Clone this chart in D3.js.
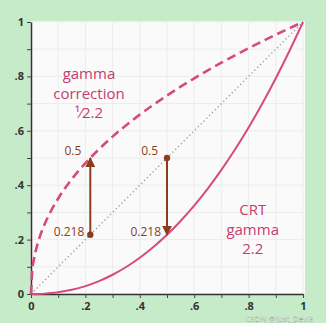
<!DOCTYPE html>
<html>
<head>
<meta charset="utf-8">
<script src="https://cdn.jsdelivr.net/npm/d3@7"></script>
<style>
body { margin:0; background:#c6ebc9; }
svg { display:block; }
text { font-family: "Open Sans", Lato, sans-serif; }
</style>
</head>
<body>
<div id="chart"></div>
<script>
var gammaValue = 2.2;
var curveXs = [0,0.005,0.01,0.02,0.03,0.05,0.075,0.1,0.15,0.2,0.25,0.3,0.35,0.4,0.45,0.5,0.55,0.6,0.65,0.7,0.75,0.8,0.85,0.9,0.95,1];
var xTicks = [0,0.1,0.2,0.3,0.4,0.5,0.6,0.7,0.8,0.9,1];
var tickLabels = ["0",".2",".4",".6",".8","1"];
var arrowXs = [0.218, 0.5];
var arrowFrom = [0.218, 0.5];
var arrowTo = [0.5, 0.218];

var width = 326, height = 323;
var pink = '#d64b7e', brown = '#8c3d1e';

var svg = d3.select('#chart').append('svg')
	.attr('width', width)
	.attr('height', height);

var x = d3.scaleLinear().domain([0,1]).range([31,303]);
var y = d3.scaleLinear().domain([0,1]).range([294,22]);

// plot background
svg.append('rect')
	.attr('x', x(0)).attr('y', y(1) - 1)
	.attr('width', x(1) - x(0) + 2).attr('height', y(0) - y(1) + 1)
	.style('fill', '#fafafa');

// grid
var grid = svg.append('g');
grid.selectAll('.gx').data(xTicks).enter().append('line')
	.attr('x1', function(d){ return x(d); }).attr('x2', function(d){ return x(d); })
	.attr('y1', y(0)).attr('y2', y(1))
	.style('stroke', '#ececec').style('stroke-width', 1);
grid.selectAll('.gy').data(xTicks).enter().append('line')
	.attr('y1', function(d){ return y(d); }).attr('y2', function(d){ return y(d); })
	.attr('x1', x(0)).attr('x2', x(1))
	.style('stroke', '#ececec').style('stroke-width', 1);

// axes
var fmt = function(d, i) { return i % 2 === 0 ? tickLabels[i/2] : ''; };
var xAxis = svg.append('g').attr('transform', 'translate(0,' + y(0) + ')')
	.call(d3.axisBottom(x).tickValues(xTicks).tickSize(4).tickSizeOuter(0).tickPadding(4).tickFormat(fmt));
var yAxis = svg.append('g').attr('transform', 'translate(' + x(0) + ',0)')
	.call(d3.axisLeft(y).tickValues(xTicks).tickSize(4).tickSizeOuter(0).tickFormat(fmt));
[xAxis, yAxis].forEach(function(a) {
	a.select('.domain').style('stroke', '#333').style('stroke-width', 1.5);
	a.selectAll('.tick line').style('stroke', '#444');
	a.selectAll('text').style('font-size', '11px').style('font-weight', 'bold')
		.style('fill', '#333').style('font-family', '"Open Sans", sans-serif');
});

// diagonal
var line = d3.line().x(function(d){ return x(d[0]); }).y(function(d){ return y(d[1]); });
svg.append('path').datum([[0,0],[1,1]])
	.attr('d', line)
	.style('fill', 'none').style('stroke', '#999').style('stroke-width', 1.3)
	.style('stroke-dasharray', '1.3,2.7');

// curves
var corr = curveXs.map(function(v){ return [v, Math.pow(v, 1/gammaValue)]; });
var crt = curveXs.map(function(v){ return [v, Math.pow(v, gammaValue)]; });
var smooth = d3.line().curve(d3.curveMonotoneX)
	.x(function(d){ return x(d[0]); }).y(function(d){ return y(d[1]); });
svg.append('path').datum(corr).attr('d', smooth)
	.style('fill', 'none').style('stroke', pink).style('stroke-width', 2.6)
	.style('stroke-dasharray', '9,5');
svg.append('path').datum(crt).attr('d', smooth)
	.style('fill', 'none').style('stroke', pink).style('stroke-width', 2);

// arrows
svg.append('defs').append('marker')
	.attr('id', 'head').attr('viewBox', '0 0 10 10')
	.attr('refX', 9).attr('refY', 5)
	.attr('markerWidth', 5).attr('markerHeight', 5)
	.attr('orient', 'auto')
	.append('path').attr('d', 'M0,0L10,5L0,10Z').style('fill', brown);

arrowXs.forEach(function(ax, i) {
	svg.append('line')
		.attr('x1', x(ax)).attr('x2', x(ax))
		.attr('y1', y(arrowFrom[i])).attr('y2', y(arrowTo[i]))
		.style('stroke', brown).style('stroke-width', 2)
		.attr('marker-end', 'url(#head)');
	svg.append('circle')
		.attr('cx', x(ax)).attr('cy', y(arrowFrom[i])).attr('r', 3.2)
		.style('fill', brown);
	svg.append('text')
		.attr('x', x(ax) - 9).attr('y', y(0.5) - 3)
		.attr('text-anchor', 'end')
		.style('font-size', '12px').style('fill', brown)
		.text('0.5');
	svg.append('text')
		.attr('x', x(ax) - 6).attr('y', y(0.218) + 1)
		.attr('text-anchor', 'end')
		.style('font-size', '12px').style('fill', brown)
		.text('0.218');
});

// curve labels
var labels = [
	{ lines: ['gamma', 'correction', '\u00B9\u20442.2'], cx: x(0.213), cy: y(0.79) },
	{ lines: ['CRT', 'gamma', '2.2'], cx: x(0.815), cy: y(0.29) }
];
labels.forEach(function(l) {
	l.lines.forEach(function(t, i) {
		svg.append('text')
			.attr('x', l.cx).attr('y', l.cy + i * 19.5)
			.attr('text-anchor', 'middle')
			.style('font-size', '15px').style('fill', '#c63c71')
			.text(t);
	});
});

// watermark
svg.append('text')
	.attr('x', 313).attr('y', 322).attr('text-anchor', 'end')
	.style('font-size', '8px').style('fill', '#ffffff').style('opacity', 0.85)
	.style('stroke', '#9a9a9a').style('stroke-width', 0.3)
	.text('CSDN @Just_DevG');
</script>
</body>
</html>
